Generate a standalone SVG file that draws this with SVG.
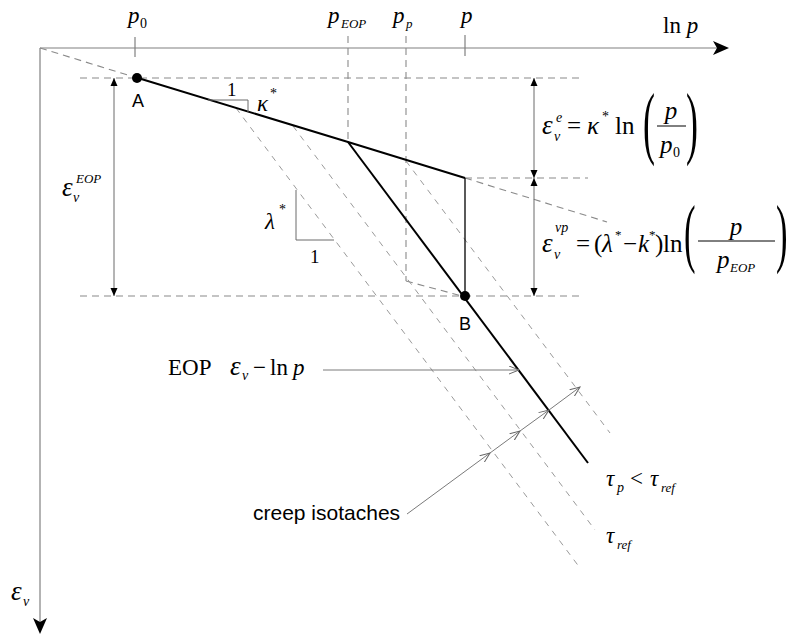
<svg xmlns="http://www.w3.org/2000/svg" width="790" height="635" viewBox="0 0 790 635">
<style>
.ax{stroke:#808080;stroke-width:1.2;fill:none}
.dash{stroke:#8a8a8a;stroke-width:1.1;stroke-dasharray:7 5;fill:none}
.iso{stroke:#9a9a9a;stroke-width:1;stroke-dasharray:6 6;fill:none}
.solid{stroke:#000;stroke-width:2;fill:none}
.thin{stroke:#000;stroke-width:1.3;fill:none}
.dim{stroke:#6a6a6a;stroke-width:1;fill:none}
.lead{stroke:#7a7a7a;stroke-width:1;fill:none}
.m{font-family:"Liberation Serif","Times New Roman",serif;font-size:23px;fill:#000}
.f{font-size:25px}
.e{font-size:27px}
.i{font-style:italic}
.s{font-size:14px}
.ss{font-size:13px}
.sans{font-family:"Liberation Sans",Arial,sans-serif;fill:#000}
</style>
<defs>
<marker id="tri" markerWidth="9" markerHeight="9" refX="8" refY="4" orient="auto-start-reverse" markerUnits="userSpaceOnUse">
<path d="M0,0.5 L8,4 L0,7.5 Z" fill="#000"/>
</marker>
<marker id="open" markerWidth="12" markerHeight="10" refX="10" refY="4.5" orient="auto" markerUnits="userSpaceOnUse">
<path d="M0,0.5 L10,4.5 L0,8.5" fill="none" stroke="#666" stroke-width="1"/>
</marker>
</defs>

<g id="axes">
<line class="ax" x1="40" y1="48" x2="722" y2="48"/>
<path d="M729,48 L713,41 L717,48 L713,55 Z" fill="#000"/>
<line class="ax" x1="40" y1="48" x2="40" y2="626"/>
<path d="M40,634 L33,618 L40,622 L47,618 Z" fill="#000"/>
<line class="ax" x1="135" y1="37" x2="135" y2="57"/>
<line class="ax" x1="465" y1="35" x2="465" y2="56"/>
</g>

<g id="reference-lines">
<line class="dash" x1="348" y1="36" x2="348" y2="142"/>
<line class="dash" x1="406" y1="36" x2="406" y2="281"/>
<line class="dash" x1="406" y1="281" x2="462" y2="296"/>
<line class="dash" x1="80" y1="78" x2="584" y2="78"/>
<line class="dash" x1="465" y1="178" x2="588" y2="178"/>
<line class="dash" x1="80" y1="296" x2="584" y2="296"/>
<line class="dash" x1="40" y1="48" x2="131" y2="76"/>
<line class="dash" x1="465" y1="178" x2="607" y2="222"/>
</g>

<g id="isotaches">
<line class="iso" x1="236" y1="108" x2="580" y2="568"/>
<line class="iso" x1="293" y1="126" x2="595" y2="530"/>
<line class="iso" x1="406" y1="161" x2="610" y2="433"/>
</g>

<g id="curves">
<polyline class="solid" points="138,78 348,142 465,178"/>
<line class="solid" x1="348" y1="142" x2="588" y2="463"/>
<line class="thin" x1="465" y1="178" x2="465" y2="296"/>
<polyline class="dim" points="208,100 248,100 248,112"/>
<polyline class="dim" points="296,190 296,240 334,240"/>
</g>

<g id="node-A">
<circle cx="137" cy="78" r="5" fill="#000"/>
<text class="sans" x="138" y="107" font-size="18" text-anchor="middle">A</text>
</g>
<g id="node-B">
<circle cx="465" cy="296" r="5" fill="#000"/>
<text class="sans" x="465" y="330" font-size="18" text-anchor="middle">B</text>
</g>

<g id="connectors">
<line class="dim" x1="114" y1="78" x2="114" y2="296" marker-start="url(#tri)" marker-end="url(#tri)"/>
<line class="dim" x1="534" y1="78" x2="534" y2="178" marker-start="url(#tri)" marker-end="url(#tri)"/>
<line class="dim" x1="534" y1="178" x2="534" y2="296" marker-start="url(#tri)" marker-end="url(#tri)"/>
<line class="lead" x1="323" y1="370" x2="519" y2="370" marker-end="url(#open)"/>
<line class="lead" x1="407" y1="514" x2="490" y2="453" marker-end="url(#open)"/>
<line class="lead" x1="490" y1="453" x2="520" y2="431" marker-end="url(#open)"/>
<line class="lead" x1="520" y1="431" x2="549" y2="410" marker-end="url(#open)"/>
<line class="lead" x1="549" y1="410" x2="580" y2="387" marker-end="url(#open)"/>
</g>

<g id="axis-labels">
<text class="m i" x="128" y="23">p</text><text class="m s" x="140" y="28">0</text>
<text class="m i" x="328" y="23">p</text><text class="m i ss" x="341" y="28">EOP</text>
<text class="m i" x="393" y="23">p</text><text class="m i ss" x="406" y="28">p</text>
<text class="m i" x="461" y="23">p</text>
<text class="m" x="663" y="33">ln <tspan class="i">p</tspan></text>
<text class="m i e" x="11" y="600">ε</text><text class="m i s" x="23" y="606">v</text>
</g>

<g id="slope-labels">
<text class="m" x="227" y="96" style="font-size:19px">1</text>
<text class="m i" x="257" y="111">κ</text><text class="m s" x="270" y="98">*</text>
<text class="m i" x="265" y="229">λ</text><text class="m s" x="279" y="214">*</text>
<text class="m" x="310" y="263" style="font-size:19px">1</text>
</g>

<g id="eps-eop">
<text class="m i e" x="62" y="196">ε</text>
<text class="m i s" x="73" y="202">v</text>
<text class="m i ss" x="76" y="183">EOP</text>
</g>

<g id="formula-e">
<text class="m i e" x="542" y="134">ε</text>
<text class="m i s" x="554" y="141">v</text>
<text class="m i s" x="556" y="122">e</text>
<text class="m f" x="567" y="134">=</text>
<text class="m i f" x="587" y="134">κ</text>
<text class="m s" x="602" y="121">*</text>
<text class="m f" x="615" y="134">ln</text>
<text class="m" transform="translate(643,149) scale(0.45,1)" style="font-size:80px">(</text>
<text class="m i f" x="671" y="119" text-anchor="middle">p</text>
<line x1="657" y1="126" x2="686" y2="126" stroke="#000" stroke-width="1"/>
<text class="m i f" x="660" y="153">p</text><text class="m s" x="673" y="157">0</text>
<text class="m" transform="translate(686,149) scale(0.45,1)" style="font-size:80px">)</text>
</g>

<g id="formula-vp">
<text class="m i e" x="542" y="252">ε</text>
<text class="m i s" x="554" y="259">v</text>
<text class="m i s" x="555" y="232">vp</text>
<text class="m f" x="576" y="252">=</text>
<text class="m f" x="594" y="252">(</text>
<text class="m i f" x="602" y="252">λ</text>
<text class="m ss" x="615" y="239">*</text>
<text class="m f" x="623" y="252">−</text>
<text class="m i f" x="638" y="252">k</text>
<text class="m ss" x="649" y="239">*</text>
<text class="m f" x="655" y="252">)</text>
<text class="m f" x="663" y="252">ln</text>
<text class="m" transform="translate(684,258) scale(0.45,1)" style="font-size:77px">(</text>
<text class="m i f" x="736" y="235" text-anchor="middle">p</text>
<line x1="698" y1="241" x2="775" y2="241" stroke="#000" stroke-width="1"/>
<text class="m i f" x="717" y="268">p</text><text class="m i ss" x="730" y="272">EOP</text>
<text class="m" transform="translate(776,258) scale(0.45,1)" style="font-size:77px">)</text>
</g>

<g id="eop-label">
<text class="m" x="168" y="375">EOP</text>
<text class="m i e" x="230" y="375">ε</text>
<text class="m i s" x="242" y="380">v</text>
<text class="m" x="253" y="375">−</text>
<text class="m" x="270" y="375">ln</text>
<text class="m i" x="293" y="375">p</text>
</g>

<g id="creep-label">
<text class="sans" x="253" y="520" font-size="21">creep isotaches</text>
</g>

<g id="tau-labels">
<text class="m i" x="606" y="486">τ</text><text class="m i s" x="617" y="492">p</text>
<text class="m" x="630" y="486">&lt;</text>
<text class="m i" x="650" y="486">τ</text><text class="m i ss" x="661" y="492">ref</text>
<text class="m i" x="606" y="543">τ</text><text class="m i ss" x="617" y="549">ref</text>
</g>
</svg>
